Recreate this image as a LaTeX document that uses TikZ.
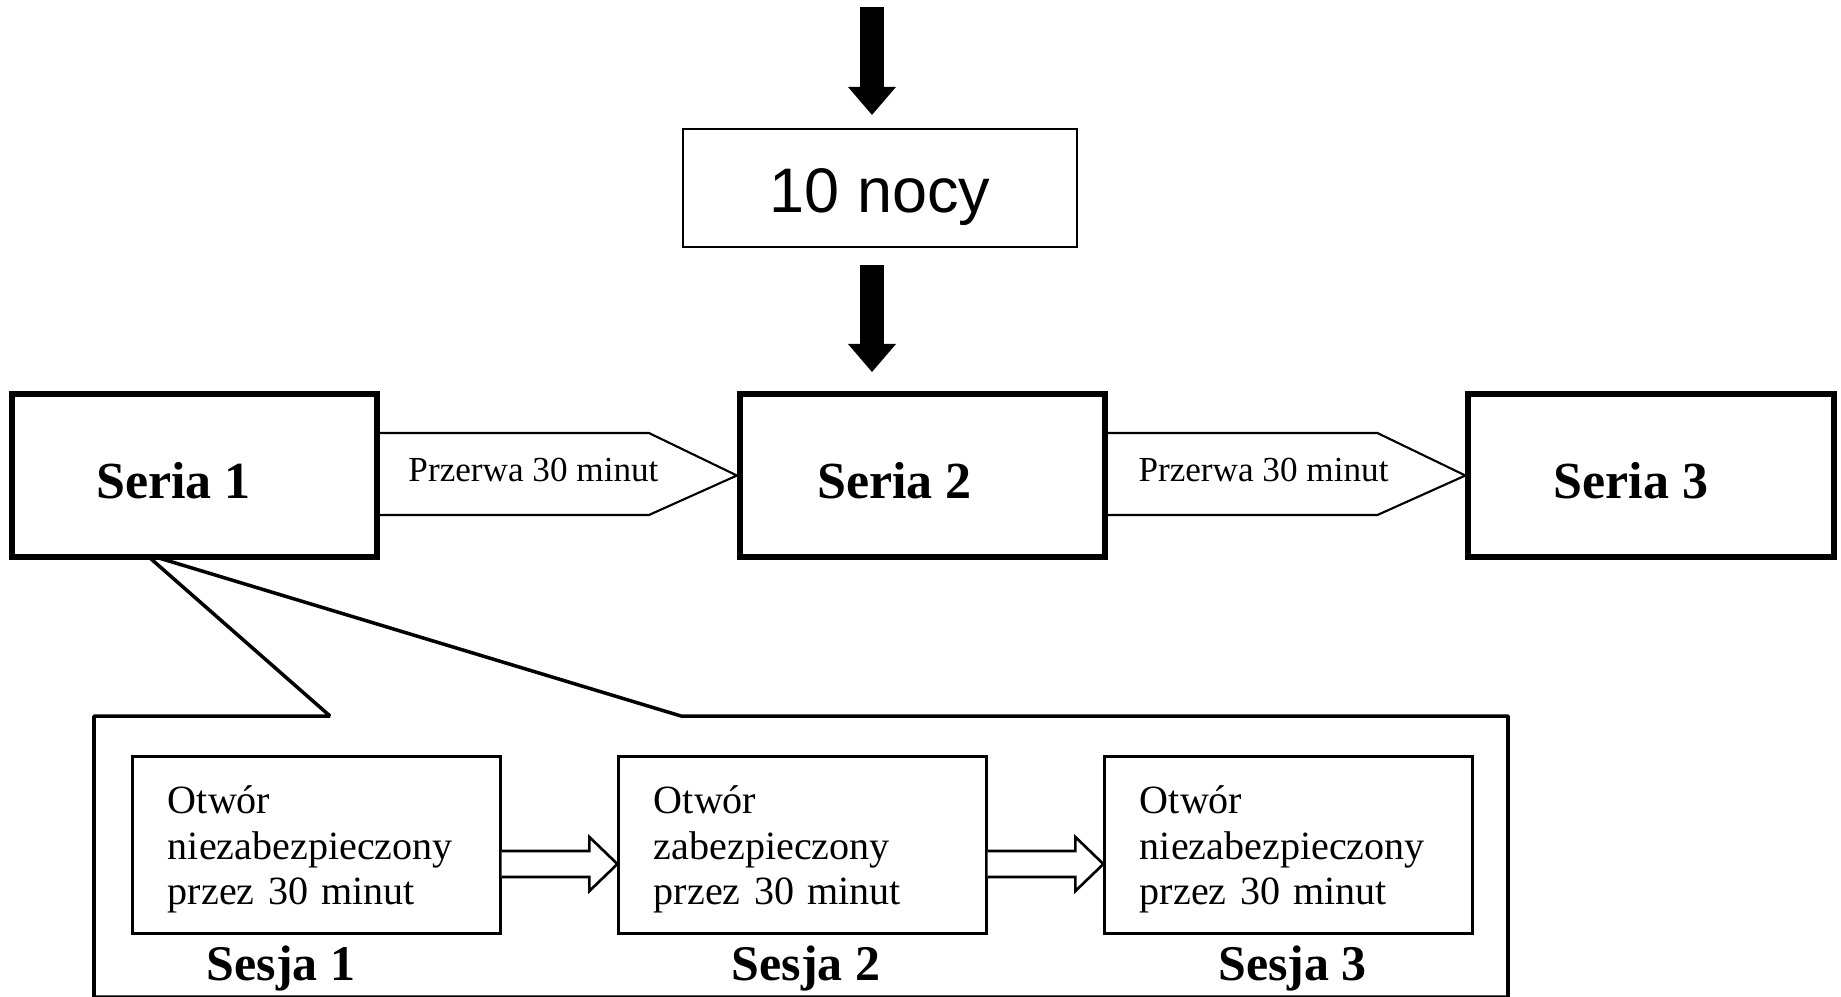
\documentclass[tikz,border=0pt]{standalone}
\usepackage{fontspec}
\setmainfont{Liberation Serif}
\newfontfamily\arialfont{Liberation Sans}
\usetikzlibrary{arrows.meta}

\tikzset{
    nocbox/.style = {draw=black, line width=0.7pt, minimum width=39.4mm, minimum height=11.8mm, inner sep=0pt,
        font=\arialfont\fontsize{17.9pt}{20pt}\selectfont, text height=6.1mm, text depth=1.3mm},
    seriabox/.style = {draw=black, line width=1.7pt, fill=white, minimum width=36.5mm, minimum height=16.3mm, inner sep=0pt},
    seriatext/.style = {font=\bfseries\fontsize{14.8pt}{17pt}\selectfont, inner sep=0pt, anchor=base},
    przerwa/.style = {draw=black, line width=0.6pt},
    przerwatext/.style = {font=\fontsize{10pt}{12pt}\selectfont, inner sep=0pt, anchor=base},
    sesjabox/.style = {draw=black, line width=0.85pt, minimum width=36.7mm, minimum height=17.6mm, inner xsep=3.5mm,
        inner ysep=0pt, text width=29.7mm, text height=3.7mm, align=left, font=\fontsize{11.4pt}{12.9pt}\selectfont},
    sesjatext/.style = {font=\bfseries\fontsize{14.2pt}{17pt}\selectfont, inner sep=0pt, anchor=base},
    sesjaarrow/.style = {draw=black, line width=0.75pt, fill=white},
    callout/.style = {draw=black, line width=1pt, line join=bevel},
    blockarrow/.style = {line width=2.4mm, -{Triangle[width=4.8mm,length=2.8mm,line width=0pt]}}
}

\begin{document}
\begin{tikzpicture}[x=0.01cm, y=-0.01cm]
    \useasboundingbox (0,0) rectangle (1841,996);
    % callout from Seria 1
    \draw[callout] (94,997) -- (94,716) -- (330,716) -- (150,558) -- (159,558) -- (681,716) -- (1508,716) -- (1508,997) -- cycle;

    \node[nocbox] (noce) at (880,188) {10 nocy};
    \node[seriabox] (s1) at (194.5,475.5) {};
    \node[seriabox] (s2) at (922.5,475.5) {};
    \node[seriabox] (s3) at (1651,475.5) {};
    \node[seriatext] (l1) at (173.5,498) {Seria 1};
    \node[seriatext] (l2) at (894.5,498) {Seria 2};
    \node[seriatext] (l3) at (1631,498) {Seria 3};

    \coordinate (in) at (872,7);
    \draw[blockarrow, shorten >=1.28mm] (in) -- (in |- noce.north);
    \draw[blockarrow, shorten <=1.68mm, shorten >=1.9mm] (in |- noce.south) -- (in |- s2.north);

    % breaks between series
    \draw[przerwa] ([yshift=4.25mm]s1.east) -- ([xshift=-8.8mm,yshift=4.25mm]s2.west) -- (s2.west)
        -- ([xshift=-8.8mm,yshift=-3.95mm]s2.west) -- ([yshift=-3.95mm]s1.east);
    \draw[przerwa] ([yshift=4.25mm]s2.east) -- ([xshift=-8.8mm,yshift=4.25mm]s3.west) -- (s3.west)
        -- ([xshift=-8.8mm,yshift=-3.95mm]s3.west) -- ([yshift=-3.95mm]s2.east);
    \node[przerwatext] (p1) at (533.5,481) {Przerwa 30 minut};
    \node[przerwatext] (p2) at (1263.5,481) {Przerwa 30 minut};

    % sessions
    \node[sesjabox] (e1) at (316.5,845) {Otwór\\niezabezpieczony\\przez 30 minut};
    \node[sesjabox] (e2) at (802.5,845) {Otwór\\zabezpieczony\\przez 30 minut};
    \node[sesjabox] (e3) at (1288.5,845) {Otwór\\niezabezpieczony\\przez 30 minut};
    \node[sesjatext] (n1) at (281,980) {Sesja 1};
    \node[sesjatext] (n2) at (806,980) {Sesja 2};
    \node[sesjatext] (n3) at (1292.5,980) {Sesja 3};

    \draw[sesjaarrow] ([yshift=-0.6mm]e1.east) -- ([xshift=-2.8mm,yshift=-0.6mm]e2.west) -- ([xshift=-2.8mm,yshift=0.8mm]e2.west)
        -- ([yshift=-1.9mm]e2.west) -- ([xshift=-2.8mm,yshift=-4.6mm]e2.west) -- ([xshift=-2.8mm,yshift=-3.2mm]e2.west)
        -- ([yshift=-3.2mm]e1.east);
    \draw[sesjaarrow] ([yshift=-0.6mm]e2.east) -- ([xshift=-2.8mm,yshift=-0.6mm]e3.west) -- ([xshift=-2.8mm,yshift=0.8mm]e3.west)
        -- ([yshift=-1.9mm]e3.west) -- ([xshift=-2.8mm,yshift=-4.6mm]e3.west) -- ([xshift=-2.8mm,yshift=-3.2mm]e3.west)
        -- ([yshift=-3.2mm]e2.east);
\end{tikzpicture}
\end{document}
